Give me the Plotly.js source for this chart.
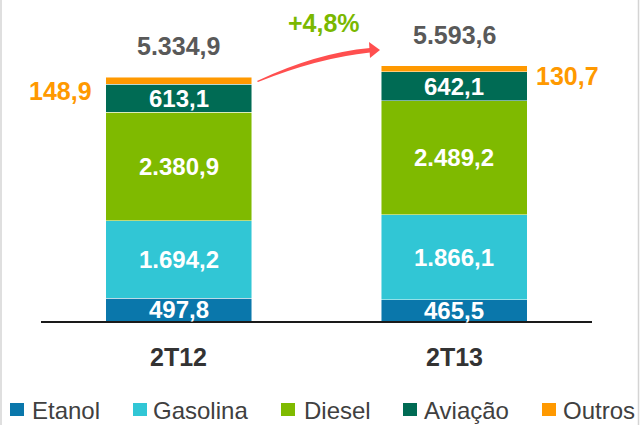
<!DOCTYPE html>
<html><head><meta charset="utf-8">
<script src="https://cdn.plot.ly/plotly-3.0.1.min.js"></script>
<style>html,body{margin:0;padding:0;background:#fff;}#chart{width:641px;height:425px;}</style>
</head><body><div id="chart"></div>
<script>
// ---- data ----
const categories = ['2T12', '2T13'];
const seriesNames = ['Etanol', 'Gasolina', 'Diesel', 'Aviação', 'Outros'];
const etanol   = [497.8, 465.5];
const gasolina = [1694.2, 1866.1];
const diesel   = [2380.9, 2489.2];
const aviacao  = [613.1, 642.1];
const outros   = [148.9, 130.7];
const totals   = [5334.9, 5593.6];
const growthLabel = '+4,8%';

// ---- styles ----
const colors = ['#0a77ab', '#31c6d5', '#7fba00', '#006b54', '#ff9900'];
const FONT = 'Liberation Sans, Arial, sans-serif';
const series = [etanol, gasolina, diesel, aviacao, outros];

function fmt(v) {
  const parts = v.toFixed(1).split('.');
  const intPart = parts[0].replace(/\B(?=(\d{3})+(?!\d))/g, '.');
  return intPart + ',' + parts[1];
}

// pixel -> paper helpers (plot area 41..592 x 47..321)
const L = 41, R = 592, T = 47, B = 321;
const px = x => (x - L) / (R - L);
const py = y => (B - y) / (B - T);

const traces = series.map((vals, i) => ({
  type: 'bar',
  name: seriesNames[i],
  x: categories,
  y: vals,
  width: 0.53,
  marker: {color: colors[i], line: {color: 'rgba(255,255,255,0.6)', width: 0.8}},
  hoverinfo: 'none',
  showlegend: false
}));

const annotations = [];
categories.forEach((c, ci) => {
  let base = 0;
  series.forEach((vals, si) => {
    const v = vals[ci];
    if (si < 4) {
      annotations.push({
        x: c, y: base + v / 2, xref: 'x', yref: 'y',
        text: '<b>' + fmt(v) + '</b>', showarrow: false,
        font: {family: FONT, size: 24, color: '#ffffff'},
        xanchor: 'center', yanchor: 'middle', borderpad: 0
      });
    }
    base += v;
  });
  annotations.push({
    x: c, y: totals[ci], xref: 'x', yref: 'y', yshift: 31,
    text: '<b>' + fmt(totals[ci]) + '</b>', showarrow: false,
    font: {family: FONT, size: 25, color: '#595959'},
    xanchor: 'center', yanchor: 'middle', borderpad: 0
  });
  annotations.push({
    x: c, y: py(356.5), xref: 'x', yref: 'paper',
    text: '<b>' + c + '</b>', showarrow: false,
    font: {family: FONT, size: 25, color: '#333333'},
    xanchor: 'center', yanchor: 'middle', borderpad: 0
  });
});
annotations.push({
  x: categories[0], y: totals[0], xref: 'x', yref: 'y', xshift: -118, yshift: -14,
  text: '<b>' + fmt(outros[0]) + '</b>', showarrow: false,
  font: {family: FONT, size: 25, color: '#ff9900'},
  xanchor: 'center', yanchor: 'middle', borderpad: 0
});
annotations.push({
  x: categories[1], y: totals[1], xref: 'x', yref: 'y', xshift: 113, yshift: -10,
  text: '<b>' + fmt(outros[1]) + '</b>', showarrow: false,
  font: {family: FONT, size: 25, color: '#ff9900'},
  xanchor: 'center', yanchor: 'middle', borderpad: 0
});
annotations.push({
  x: px(324), y: py(23), xref: 'paper', yref: 'paper',
  text: '<b>' + growthLabel + '</b>', showarrow: false,
  font: {family: FONT, size: 25, color: '#7ab800'},
  xanchor: 'center', yanchor: 'middle', borderpad: 0
});

// manual legend
const legSquareX = [10, 133, 281, 403, 542];
const legTextX = [31, 152, 303, 423, 562];
const shapes = [];
seriesNames.forEach((n, i) => {
  shapes.push({
    type: 'rect', xref: 'paper', yref: 'paper',
    x0: px(legSquareX[i]), x1: px(legSquareX[i] + 14),
    y0: py(403), y1: py(416),
    fillcolor: colors[i], line: {width: 0}
  });
  annotations.push({
    x: px(legTextX[i]), y: py(410.5), xref: 'paper', yref: 'paper',
    text: n, showarrow: false,
    font: {family: FONT, size: 24, color: '#404040'},
    xanchor: 'left', yanchor: 'middle', borderpad: 0
  });
});

// red curved arrow
const P = (x, y) => px(x).toFixed(5) + ',' + py(y).toFixed(5);
shapes.push({
  type: 'path', xref: 'paper', yref: 'paper',
  path: 'M' + P(258, 82) + ' Q' + P(318, 58) + ' ' + P(370, 52.5) +
        ' L' + P(370, 48) + ' Q' + P(316, 53) + ' ' + P(257, 81) + ' Z',
  fillcolor: '#ff4f4f', line: {width: 0}
});
shapes.push({
  type: 'path', xref: 'paper', yref: 'paper',
  path: 'M' + P(369, 42) + ' L' + P(380, 50) + ' L' + P(370, 58) + ' Z',
  fillcolor: '#ff4f4f', line: {width: 0}
});
shapes.push({type: 'line', xref: 'paper', yref: 'paper', x0: px(1), x1: px(1), y0: py(0), y1: py(425), line: {color: '#d4d4d4', width: 1.5}});
shapes.push({type: 'line', xref: 'paper', yref: 'paper', x0: px(638.5), x1: px(638.5), y0: py(0), y1: py(425), line: {color: '#d4d4d4', width: 1.5}});

const layout = {
  width: 641, height: 425,
  margin: {l: 41, r: 49, t: 47, b: 104, pad: 0},
  barmode: 'stack',
  paper_bgcolor: '#ffffff', plot_bgcolor: '#ffffff',
  showlegend: false,
  xaxis: {
    type: 'category', range: [-0.5, 1.5], showline: true, linecolor: '#1a1a1a', linewidth: 2,
    showticklabels: false, ticks: '', showgrid: false, zeroline: false, fixedrange: true
  },
  yaxis: {range: [0, 6000], visible: false, fixedrange: true},
  annotations: annotations,
  shapes: shapes,
  font: {family: FONT}
};

Plotly.newPlot('chart', traces, layout, {displayModeBar: false, staticPlot: true});
</script>
</body></html>
